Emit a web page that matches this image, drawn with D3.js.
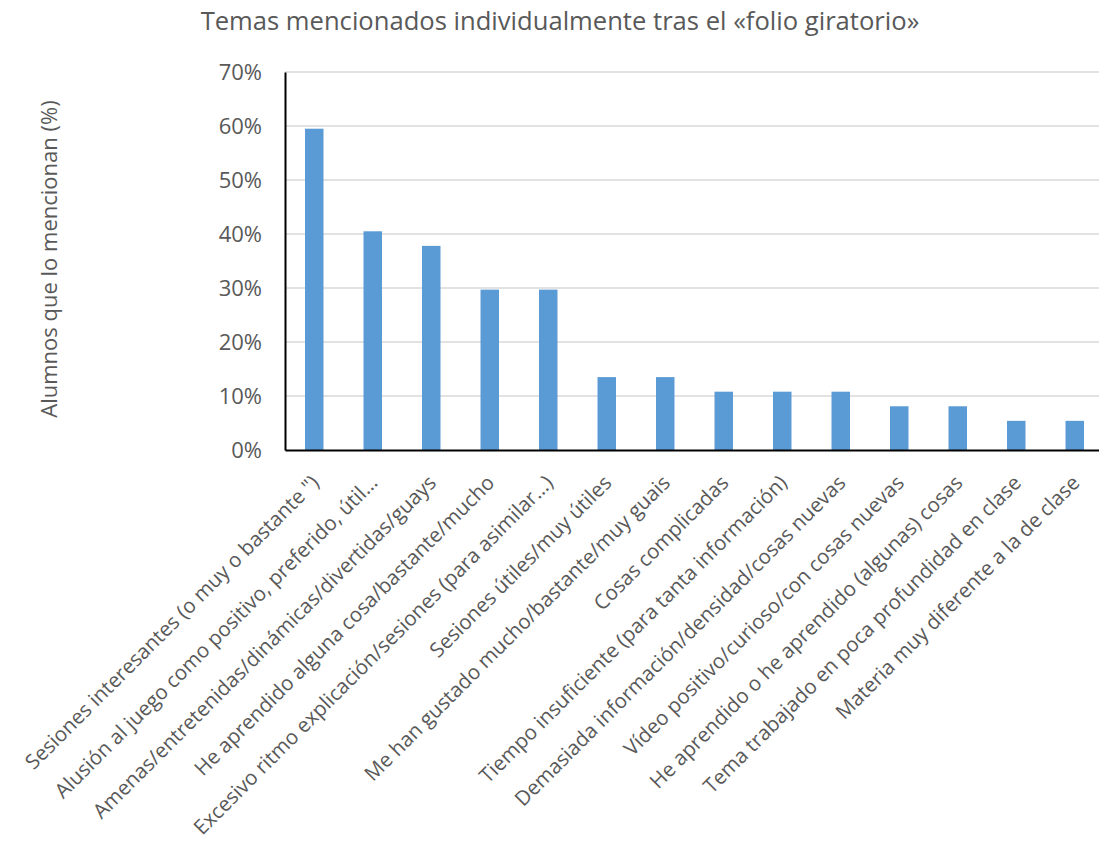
<!DOCTYPE html>
<html>
<head>
<meta charset="utf-8">
<script src="https://cdn.jsdelivr.net/npm/d3@7"></script>
<style>
  body { margin: 0; background: #fff; }
  svg { display: block; font-family: "Open Sans", sans-serif; }
</style>
</head>
<body>
<script>
const categories = [
  'Sesiones interesantes (o muy o bastante ")',
  'Alusión al juego como positivo, preferido, útil…',
  'Amenas/entretenidas/dinámicas/divertidas/guays',
  'He aprendido alguna cosa/bastante/mucho',
  'Excesivo ritmo explicación/sesiones (para asimilar…)',
  'Sesiones útiles/muy útiles',
  'Me han gustado mucho/bastante/muy guais',
  'Cosas complicadas',
  'Tiempo insuficiente (para tanta información)',
  'Demasiada información/densidad/cosas nuevas',
  'Vídeo positivo/curioso/con cosas nuevas',
  'He aprendido o he aprendido (algunas) cosas',
  'Tema trabajado en poca profundidad en clase',
  'Materia muy diferente a la de clase'
];
const values = [59.5, 40.5, 37.8, 29.7, 29.7, 13.5, 13.5, 10.8, 10.8, 10.8, 8.1, 8.1, 5.4, 5.4];
const yTicks = [0, 10, 20, 30, 40, 50, 60, 70];

const title = 'Temas mencionados individualmente tras el «folio giratorio»';
const yTitle = 'Alumnos que lo mencionan (%)';

const width = 1099, height = 841;
// plot area runs a little past the right edge, as in the original
const margin = { top: 72, right: -5, bottom: 391, left: 285 };
const innerW = width - margin.left - margin.right;
const innerH = height - margin.top - margin.bottom;

const svg = d3.select('body').append('svg')
  .attr('width', width)
  .attr('height', height)
  .attr('viewBox', [0, 0, width, height]);

const x = d3.scaleBand()
  .domain(categories)
  .range([0, innerW])
  .paddingInner(0.684)
  .paddingOuter(0.342);

const y = d3.scaleLinear()
  .domain([0, 70])
  .range([innerH, 0]);

const g = svg.append('g')
  .attr('transform', `translate(${margin.left},${margin.top})`);

// gridlines
g.append('g')
  .selectAll('line')
  .data(yTicks.filter(d => d > 0))
  .join('line')
  .attr('x1', 0)
  .attr('x2', innerW)
  .attr('y1', d => y(d))
  .attr('y2', d => y(d))
  .attr('stroke', '#d9d9d9')
  .attr('stroke-width', 1.5);

// bars
g.append('g')
  .selectAll('rect')
  .data(values)
  .join('rect')
  .attr('x', (d, i) => x(categories[i]))
  .attr('y', d => y(d))
  .attr('width', x.bandwidth())
  .attr('height', d => innerH - y(d))
  .attr('fill', '#5b9bd5');

// y axis
const yAxis = d3.axisLeft(y)
  .tickValues(yTicks)
  .tickSize(0)
  .tickPadding(23)
  .tickFormat(d => d + '%');

const yAxisG = g.append('g').call(yAxis);
yAxisG.select('.domain').attr('stroke', '#000').attr('stroke-width', 2);
yAxisG.selectAll('text')
  .attr('font-family', '"Open Sans", sans-serif')
  .attr('font-size', 22)
  .attr('fill', '#595959');

// x axis
const xAxis = d3.axisBottom(x).tickSize(0).tickPadding(0);
const xAxisG = g.append('g')
  .attr('transform', `translate(0,${innerH})`)
  .call(xAxis);
xAxisG.select('.domain').attr('stroke', '#000').attr('stroke-width', 2);
xAxisG.selectAll('text')
  .attr('font-family', '"Open Sans", sans-serif')
  .attr('font-size', 20.5)
  .attr('fill', '#595959')
  .attr('text-anchor', 'end')
  .attr('dy', '0.35em')
  .attr('transform', 'translate(1,29) rotate(-45)');

// title
svg.append('text')
  .attr('x', 560)
  .attr('y', 30)
  .attr('text-anchor', 'middle')
  .attr('font-size', 25.6)
  .attr('fill', '#595959')
  .text(title);

// y title
svg.append('text')
  .attr('transform', `translate(57,259) rotate(-90)`)
  .attr('text-anchor', 'middle')
  .attr('font-size', 22)
  .attr('fill', '#595959')
  .text(yTitle);
</script>
</body>
</html>
